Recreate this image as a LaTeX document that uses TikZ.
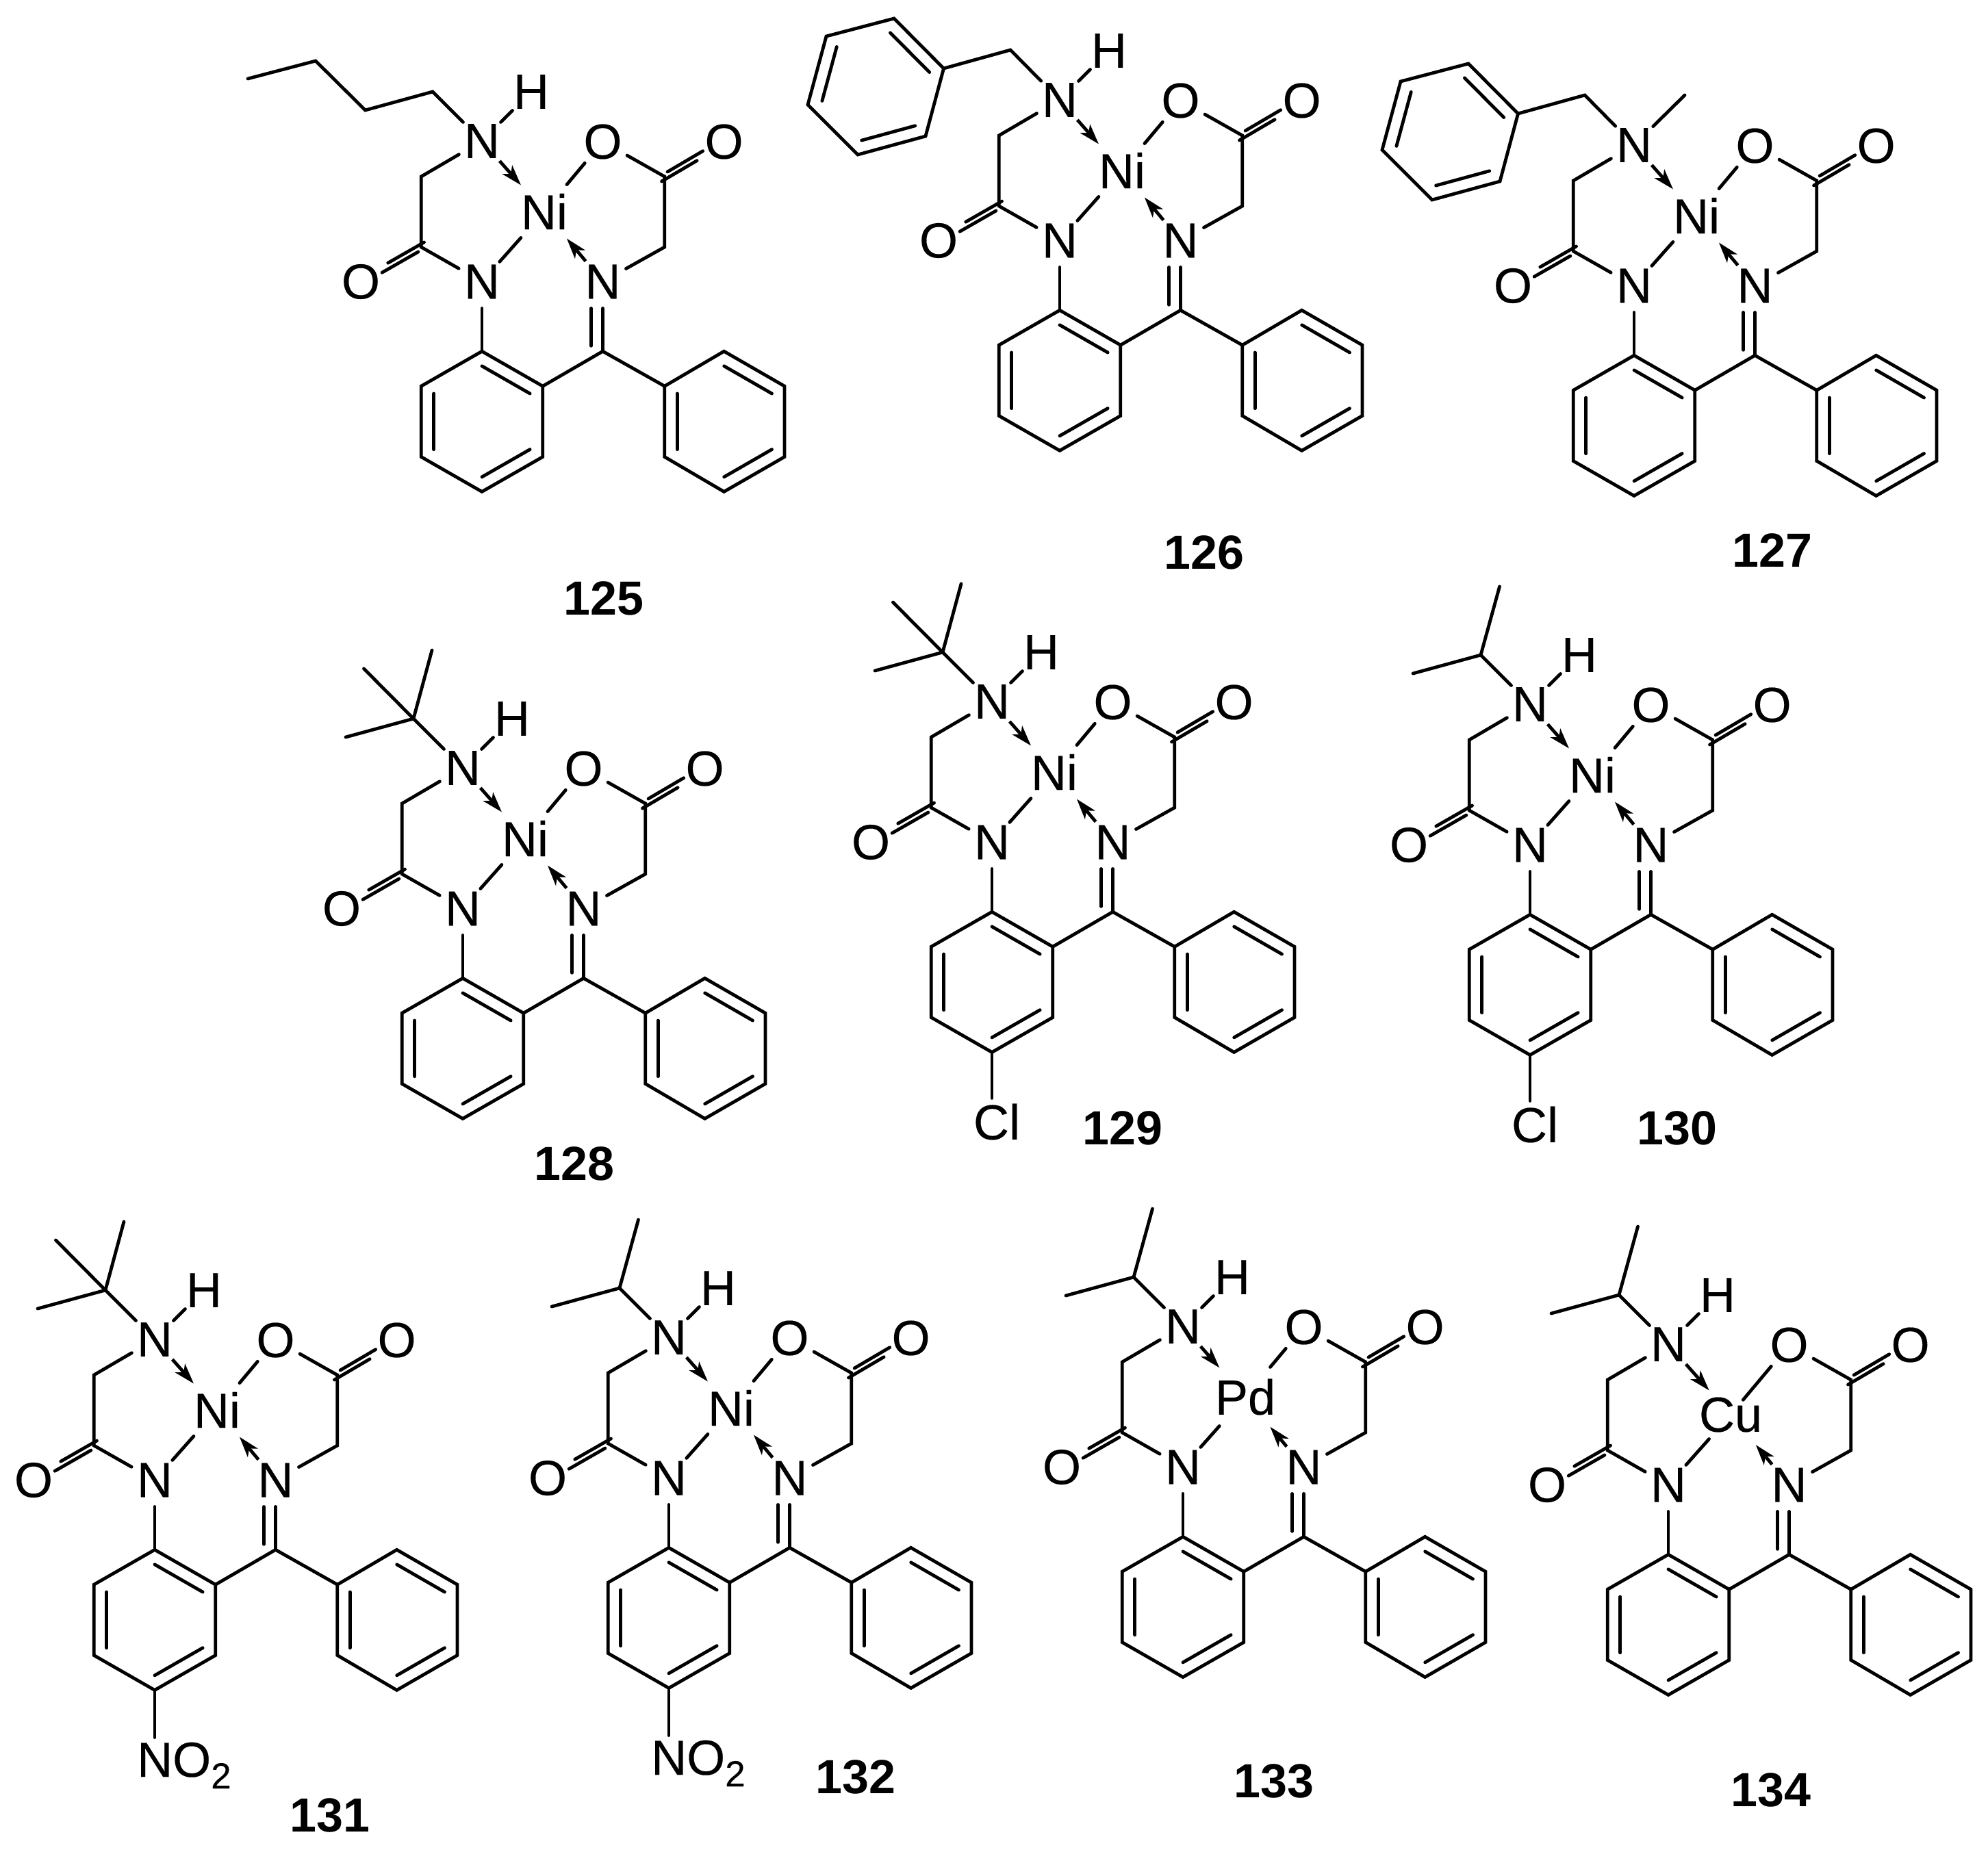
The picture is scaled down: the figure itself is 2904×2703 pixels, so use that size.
\documentclass[tikz,border=0pt]{standalone}
\usepackage{fontspec}
\setmainfont{Liberation Sans}
\newfontfamily\atomfont{Liberation Sans}[FakeBold=0.25]
\usetikzlibrary{calc,arrows.meta}
\tikzset{
  bond/.style={line width=4.8pt,line cap=round,line join=miter,draw=black},
  atom/.style={circle,inner sep=2pt,font=\atomfont\fontsize{72}{72}\selectfont},
  dative/.style={bond,line cap=butt,-{Stealth[length=30pt,width=19pt,inset=8pt]}},
  num/.style={font=\fontsize{70}{70}\selectfont\bfseries,inner sep=0pt},
}
\newcommand{\innerbond}[3]{\draw[bond] ($(#1)!.21!(#3)$) -- ($(#2)!.21!(#3)$);}
\newcommand{\oshort}{0pt}
\newcommand{\nshort}{0pt}
\newcommand{\core}[3]{% #1 metal, #2 metal inner sep, #3 extras
  \node[atom] (N) at (0,0) {N};
  \node[atom] (Oa) at (176.5,1) {O};
  \node[atom,inner sep=#2] (M) at (91,103) {#1};
  \coordinate (CL) at (-88.8,52);
  \coordinate (COL) at (-88.8,155);
  \node[atom] (OL) at (-177,205.5) {O};
  \node[atom] (NL) at (0,205.5) {N};
  \node[atom] (NR) at (176.5,205.5) {N};
  \coordinate (CR) at (266.8,155);
  \coordinate (COR) at (266.8,52);
  \node[atom] (OR) at (353.6,1) {O};
  \coordinate (Ci) at (176.5,307.3);
  \coordinate (a1) at (0,307.3);
  \coordinate (a2) at (88.8,358.2);
  \coordinate (a3) at (88.8,461.5);
  \coordinate (a4) at (0,512.4);
  \coordinate (a5) at (-88.8,461.5);
  \coordinate (a6) at (-88.8,358.2);
  \coordinate (ca) at (0,409.8);
  \coordinate (b1) at (266.8,358.2);
  \coordinate (b2) at (353.6,307.3);
  \coordinate (b3) at (442,358.2);
  \coordinate (b4) at (442,461.5);
  \coordinate (b5) at (353.6,512.4);
  \coordinate (b6) at (266.8,461.5);
  \coordinate (cb) at (354,409.8);
  \draw[bond] (N) -- (CL) -- (COL) -- (NL);
  \draw[bond] (NL) -- (M);
  \draw[bond,shorten <=\oshort] (M) -- (Oa);
  \draw[bond] (Oa) -- (COR) -- (CR) -- (NR);
  \draw[dative] (N) -- (M);
  \draw[dative,shorten >=\nshort] (NR) -- (M);
  \draw[bond,transform canvas={shift={(4.3pt,7pt)}}] (COR) -- (OR);
  \draw[bond,transform canvas={shift={(-4.3pt,-7pt)}}] (COR) -- (OR);
  \draw[bond,transform canvas={shift={(4.3pt,7pt)}}] (COL) -- (OL);
  \draw[bond,transform canvas={shift={(-4.3pt,-7pt)}}] (COL) -- (OL);
  \draw[bond] (NR) -- (Ci);
  \draw[bond,transform canvas={xshift=-17pt},shorten >=8pt] (NR) -- (Ci);
  \draw[bond] (NL) -- (a1);
  \draw[bond] (a2) -- (Ci) -- (b1);
  \draw[bond] (a1) -- (a2) -- (a3) -- (a4) -- (a5) -- (a6) -- cycle;
  \draw[bond] (b1) -- (b2) -- (b3) -- (b4) -- (b5) -- (b6) -- cycle;
  \innerbond{a1}{a2}{ca}\innerbond{a3}{a4}{ca}\innerbond{a5}{a6}{ca}
  \innerbond{b2}{b3}{cb}\innerbond{b4}{b5}{cb}\innerbond{b1}{b6}{cb}
  #3
}
\newcommand{\nh}{%
  \node[atom] (H) at (72,-72) {H};
  \draw[bond] (N) -- (H);
}
\newcommand{\tbu}{%
  \coordinate (t) at (-72,-72);
  \coordinate (t1) at (-144.5,-145);
  \coordinate (t2) at (-45,-172);
  \coordinate (t3) at (-171,-45);
  \draw[bond] (N) -- (t) -- (t1);
  \draw[bond] (t) -- (t2);
  \draw[bond] (t) -- (t3);
}
\newcommand{\ipr}{%
  \coordinate (t) at (-72,-72);
  \coordinate (t1) at (-44.5,-172);
  \coordinate (t2) at (-171,-45);
  \draw[bond] (N) -- (t) -- (t1);
  \draw[bond] (t) -- (t2);
}
\newcommand{\bn}{%
  \coordinate (t) at (-72,-73);
  \coordinate (p1) at (-169.5,-46);
  \coordinate (p2) at (-242,-119);
  \coordinate (p3) at (-341,-93);
  \coordinate (p4) at (-368,7);
  \coordinate (p5) at (-295,80);
  \coordinate (p6) at (-196,53);
  \coordinate (pc) at (-268.5,-19.5);
  \draw[bond] (N) -- (t) -- (p1);
  \draw[bond] (p1) -- (p2) -- (p3) -- (p4) -- (p5) -- (p6) -- cycle;
  \innerbond{p1}{p2}{pc}\innerbond{p3}{p4}{pc}\innerbond{p5}{p6}{pc}
}
\newcommand{\clsub}{%
  \node[atom,rectangle,inner sep=8pt] (X) at (7,614) {Cl};
  \draw[bond] (a4) -- (a4 |- X.north);
}
\newcommand{\nosub}{%
  \node[atom,rectangle,inner sep=0pt,anchor=base west] (X) at (-26,639) {NO\raisebox{-17pt}{\fontsize{53}{53}\selectfont 2}};
  \draw[bond,shorten >=7pt] (a4) -- (a4 |- X.north);
}
\begin{document}
\begin{tikzpicture}[x=1pt,y=-1pt]
\useasboundingbox (0,0) rectangle (2904,2703);
\begin{scope}[shift={(704,206)},name prefix=m125-]
 \core{Ni}{6pt}{\nh
  \coordinate (s1) at (-72,-72);
  \coordinate (s2) at (-170.4,-45);
  \coordinate (s3) at (-243,-117);
  \coordinate (s4) at (-342,-91);
  \draw[bond] (N) -- (s1) -- (s2) -- (s3) -- (s4);}
\end{scope}
\begin{scope}[shift={(1548,146)},name prefix=m126-]\core{Ni}{6pt}{\nh\bn}\end{scope}
\begin{scope}[shift={(2387,212)},name prefix=m127-]\core{Ni}{6pt}{\bn
  \coordinate (me) at (74,-73);
  \draw[bond] (N) -- (me);}\end{scope}
\begin{scope}[shift={(676,1122)},name prefix=m128-]\core{Ni}{6pt}{\nh\tbu}\end{scope}
\begin{scope}[shift={(1449,1025)},name prefix=m129-]\core{Ni}{6pt}{\nh\tbu\clsub}\end{scope}
\begin{scope}[shift={(2235,1029)},name prefix=m130-]\core{Ni}{6pt}{\nh\ipr\clsub}\end{scope}
\begin{scope}[shift={(226,1957)},name prefix=m131-]\core{Ni}{6pt}{\nh\tbu\nosub}\end{scope}
\begin{scope}[shift={(977,1954)},name prefix=m132-]\core{Ni}{6pt}{\nh\ipr\nosub}\end{scope}
\begin{scope}[shift={(1728,1938)},name prefix=m133-]\core{Pd}{4pt}{\nh\ipr}\end{scope}
\begin{scope}[shift={(2437,1964)},name prefix=m134-]
  \renewcommand{\oshort}{-19pt}\renewcommand{\nshort}{10pt}
  \core{Cu}{-4pt}{\nh\ipr}\end{scope}
\node[num] (l125) at (882,874) {125};
\node[num] (l126) at (1759,807) {126};
\node[num] (l127) at (2589,804) {127};
\node[num] (l128) at (839,1700) {128};
\node[num] (l129) at (1640,1648) {129};
\node[num] (l130) at (2450,1648) {130};
\node[num] (l131) at (482,2652) {131};
\node[num] (l132) at (1250,2596) {132};
\node[num] (l133) at (1861,2602) {133};
\node[num] (l134) at (2587,2615) {134};
\end{tikzpicture}
\end{document}
